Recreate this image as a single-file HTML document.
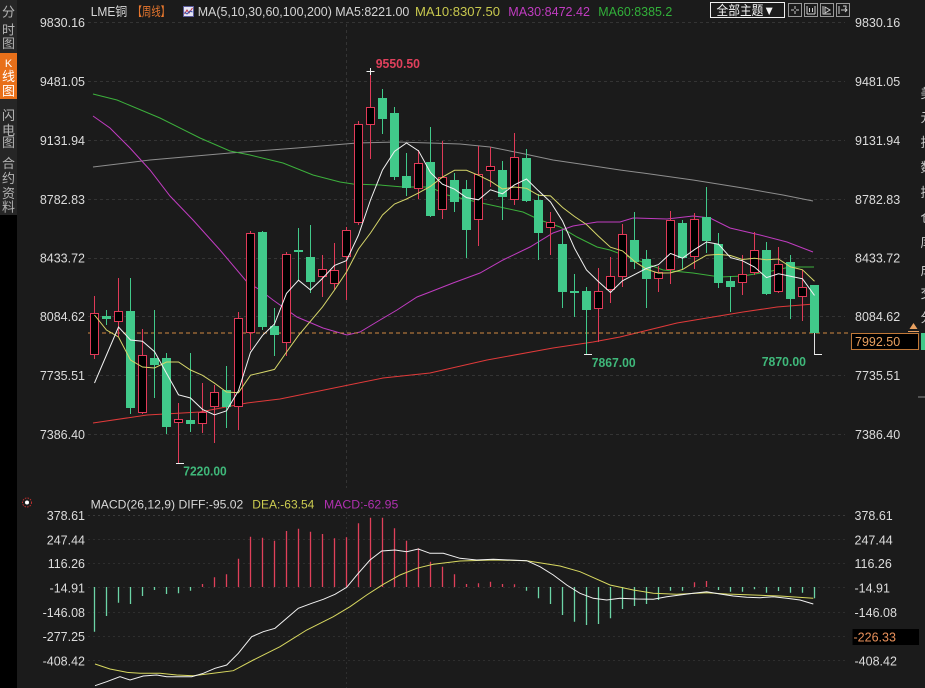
<!DOCTYPE html>
<html><head><meta charset="utf-8"><style>
html,body{margin:0;padding:0;background:#1b1b1b;}
svg{display:block;}
text{font-family:"Liberation Sans","Noto Sans CJK SC",sans-serif;}
</style></head><body>
<svg width="925" height="688" viewBox="0 0 925 688" xmlns="http://www.w3.org/2000/svg">
<rect x="0" y="0" width="925" height="688" fill="#1b1b1b"/>
<!-- sidebar -->
<rect x="0" y="0" width="17" height="215" fill="#262626"/>
<rect x="0" y="215" width="17" height="473" fill="#000"/>
<rect x="0" y="53" width="17" height="46" fill="#e8701a"/>
<g font-size="13" fill="#b4b4b4" text-anchor="middle" font-family="Noto Sans CJK SC, sans-serif">
<text x="8.5" y="16.5">分</text><text x="8.5" y="34.5">时</text><text x="8.5" y="48">图</text>
<text x="8.5" y="67" fill="#fff" font-size="11" font-family="Liberation Serif, serif">K</text><text x="8.5" y="81" fill="#fff">线</text><text x="8.5" y="95.5" fill="#fff">图</text>
<text x="8.5" y="120">闪</text><text x="8.5" y="135">电</text><text x="8.5" y="147">图</text>
<text x="8.5" y="168">合</text><text x="8.5" y="183">约</text><text x="8.5" y="198">资</text><text x="8.5" y="211.5">料</text>
</g>

<!-- grid main -->
<g stroke="#343434" stroke-width="1" stroke-dasharray="3,3">
<line x1="88" y1="22.5" x2="845" y2="22.5"/><line x1="88" y1="81.5" x2="845" y2="81.5"/>
<line x1="88" y1="140.5" x2="845" y2="140.5"/><line x1="88" y1="199.5" x2="845" y2="199.5"/>
<line x1="88" y1="258.5" x2="845" y2="258.5"/><line x1="88" y1="316.5" x2="845" y2="316.5"/>
<line x1="88" y1="375.5" x2="845" y2="375.5"/><line x1="88" y1="434.5" x2="845" y2="434.5"/>
<line x1="346.5" y1="24" x2="346.5" y2="488"/>
</g>
<g stroke="#2e2e2e" stroke-width="1" stroke-dasharray="2,3">
<line x1="88" y1="515.5" x2="845" y2="515.5" stroke="#3a3a3a"/><line x1="88" y1="539.5" x2="845" y2="539.5"/>
<line x1="88" y1="563.5" x2="845" y2="563.5"/><line x1="88" y1="587.5" x2="845" y2="587.5"/>
<line x1="88" y1="612.5" x2="845" y2="612.5"/><line x1="88" y1="636.5" x2="845" y2="636.5"/>
<line x1="88" y1="660.5" x2="845" y2="660.5"/>
<line x1="346.5" y1="512" x2="346.5" y2="688"/>
</g>

<!-- header -->
<text x="90.7" y="16" font-size="12.5" fill="#d8d8d8" textLength="36.6" lengthAdjust="spacingAndGlyphs">LME铜</text>
<text x="132.7" y="16" font-size="12.5" fill="#e8772e" textLength="37.3" lengthAdjust="spacingAndGlyphs">【周线】</text>
<rect x="183.5" y="6.5" width="10" height="10" fill="#e6e6f4" stroke="#5a5a9a"/>
<polyline points="184.5,14 187,10 189,13 192.5,8" fill="none" stroke="#c03040" stroke-width="1"/>
<polyline points="184.5,12 187,14 190,11 192.5,12" fill="none" stroke="#3050b0" stroke-width="1"/>
<text x="197.7" y="16" font-size="12.5" fill="#d4d4d4" textLength="211.6" lengthAdjust="spacingAndGlyphs">MA(5,10,30,60,100,200) MA5:8221.00</text>
<text x="415" y="16" font-size="12.5" fill="#c8c84e" textLength="85" lengthAdjust="spacingAndGlyphs">MA10:8307.50</text>
<text x="508.3" y="16" font-size="12.5" fill="#c03cc0" textLength="81.7" lengthAdjust="spacingAndGlyphs">MA30:8472.42</text>
<text x="598.3" y="16" font-size="12.5" fill="#32b03a" textLength="74" lengthAdjust="spacingAndGlyphs">MA60:8385.2</text>
<rect x="710.5" y="2.5" width="74" height="15" fill="#1b1b1b" stroke="#f0f0f0"/>
<text x="716.5" y="15" font-size="13" fill="#f4f4f4" font-family="Noto Sans CJK SC, sans-serif" textLength="58.5" lengthAdjust="spacingAndGlyphs">全部主题▼</text>
<g stroke="#9a9a9a" fill="none">
<rect x="788.5" y="3.5" width="13" height="13"/><rect x="804.5" y="3.5" width="13" height="13"/>
<rect x="820.5" y="3.5" width="13" height="13"/><rect x="836.5" y="3.5" width="13" height="13"/>
<path d="M795 6V9M795 11V14M791 10H794M796 10H799" stroke="#ccc"/>
<path d="M807 6V14M815 6V14M807 14H815M809.5 8V12M812.5 8V12" stroke="#ccc"/>
<path d="M823 6V14H831M825 7L830 10L825 13Z" stroke="#ccc"/>
<path d="M839 6V14M841 10H847M845 8L847 10L845 12M843 6H846V8" stroke="#ccc"/>
</g>

<!-- axis labels main -->
<g font-size="12.5" fill="#dcdcdc">
<g text-anchor="end">
<text x="85" y="27">9830.16</text><text x="85" y="86">9481.05</text><text x="85" y="145">9131.94</text>
<text x="85" y="204">8782.83</text><text x="85" y="262.5">8433.72</text><text x="85" y="321">8084.62</text>
<text x="85" y="380">7735.51</text><text x="85" y="439">7386.40</text>
</g>
<text x="855" y="27">9830.16</text><text x="855" y="86">9481.05</text><text x="855" y="145">9131.94</text>
<text x="855" y="204">8782.83</text><text x="855" y="262.5">8433.72</text><text x="855" y="321">8084.62</text>
<text x="855" y="380">7735.51</text><text x="855" y="439">7386.40</text>
</g>

<!-- right partial column chars -->
<g font-size="13" fill="#c8c8c8" font-family="Noto Sans CJK SC, sans-serif">
<text x="920.5" y="98">美</text><text x="920.5" y="122">元</text><text x="920.5" y="147">指</text>
<text x="920.5" y="172">数</text><text x="920.5" y="197">持</text><text x="920.5" y="222">仓</text>
<text x="920.5" y="247">库</text><text x="920.5" y="275">成</text><text x="920.5" y="298">交</text>
<text x="920.5" y="322">分</text>
</g>
<rect x="921" y="333" width="4" height="17" fill="#41c98a"/>
<line x1="918" y1="397" x2="925" y2="397" stroke="#888"/>

<!-- MA lines behind candles -->
<g fill="none" stroke-width="1">
<polyline stroke="#8e8e8e" points="93,167 150,160 230,153 297,148 357,143 397,142 430,143 460,144 490,147 520,153 553,160 587,165 620,170 643,173 693,180 743,188 783,195 813,201"/>
<polyline stroke="#3cb03c" points="93,94 117,100 160,118 200,138 230,151 250,155 283,163 313,175 340,182 353,184 380,185 403,187 430,187 447,195 477,202 500,207 523,212 540,220 560,227 577,237 597,247 610,250 637,260 663,270 693,273 720,277 743,276 767,272 790,267 814,267"/>
<polyline stroke="#c03cc0" points="93,116 110,128 130,148 150,170 170,196 193,220 220,250 247,282 260,290 273,300 297,317 323,328 347,335 360,332 380,320 397,310 417,297 430,292 453,283 480,273 503,260 530,247 553,233 573,226 597,222 620,222 633,218 667,219 693,216 710,218 730,228 760,235 787,242 813,252"/>
<polyline stroke="#e03a3a" points="93,423 147,415 200,412 247,403 280,399 383,378 430,373 487,360 553,348 593,342 620,337 677,323 743,312 777,307 814,304"/>
</g>

<!-- last price dashed line -->
<line x1="88" y1="333" x2="851" y2="333" stroke="#d08840" stroke-dasharray="4,3" stroke-width="1"/>

<!-- candle wicks -->
<path fill="none" stroke="#e03a58" stroke-width="1" d="M94.5 296V359M118.5 278V337M142.5 329V414M178.5 403V463M202.5 383V433M214.5 385V443M238.5 312V430M250.5 231V350M286.5 252V356M322.5 255V297M334.5 243V290M346.5 227V300M358.5 121V225M370.5 71V159M418.5 150V199M442.5 141V219M478.5 146V246M490.5 147V187M514.5 133V205M550.5 212V255M598.5 268V342M610.5 257V303M622.5 224V287M658.5 266V292M670.5 211V284M694.5 213V269M742.5 255V295M754.5 232V275M778.5 247V293M802.5 270V321"/>
<path fill="none" stroke="#41c98a" stroke-width="1" d="M106.5 310V325M130.5 278V414M154.5 310V398M166.5 353V434M190.5 353V432M226.5 366V428M262.5 231V330M274.5 308V356M298.5 228V280M310.5 225V293M382.5 89V134M394.5 107V180M406.5 153V196M430.5 127V217M454.5 173V212M466.5 180V258M502.5 161V220M526.5 149V202M538.5 194V260M562.5 230V308M574.5 274V317M586.5 287V354M634.5 212V269M646.5 250V308M682.5 220V269M706.5 187V253M718.5 233V288M730.5 276V312M766.5 242V295M790.5 255V319M814.5 285V333"/>
<line x1="814.5" y1="333" x2="814.5" y2="354" stroke="#e0e0e0"/>

<!-- up (hollow) bodies -->
<g fill="#000" stroke="#e03a58" stroke-width="1">
<rect x="90.5" y="313.5" width="8" height="41"/>
<rect x="114.5" y="311.5" width="8" height="10"/>
<rect x="138.5" y="355.5" width="8" height="57"/>
<rect x="174.5" y="419.5" width="8" height="3"/>
<rect x="198.5" y="412.5" width="8" height="11"/>
<rect x="210.5" y="392.5" width="8" height="14"/>
<rect x="234.5" y="318.5" width="8" height="88"/>
<rect x="246.5" y="233.5" width="8" height="99"/>
<rect x="282.5" y="254.5" width="8" height="88"/>
<rect x="318.5" y="269.5" width="8" height="7"/>
<rect x="330.5" y="270.5" width="8" height="13"/>
<rect x="342.5" y="230.5" width="8" height="26"/>
<rect x="354.5" y="124.5" width="8" height="98"/>
<rect x="366.5" y="107.5" width="8" height="17"/>
<rect x="414.5" y="163.5" width="8" height="25"/>
<rect x="438.5" y="177.5" width="8" height="32"/>
<rect x="474.5" y="174.5" width="8" height="45"/>
<rect x="486.5" y="166.5" width="8" height="4"/>
<rect x="510.5" y="157.5" width="8" height="42"/>
<rect x="546.5" y="222.5" width="8" height="5"/>
<rect x="594.5" y="291.5" width="8" height="17"/>
<rect x="606.5" y="276.5" width="8" height="13"/>
<rect x="618.5" y="234.5" width="8" height="42"/>
<rect x="654.5" y="272.5" width="8" height="6"/>
<rect x="666.5" y="220.5" width="8" height="49"/>
<rect x="690.5" y="219.5" width="8" height="37"/>
<rect x="738.5" y="274.5" width="8" height="8"/>
<rect x="750.5" y="250.5" width="8" height="22"/>
<rect x="774.5" y="264.5" width="8" height="27"/>
<rect x="798.5" y="287.5" width="8" height="9"/>
</g>
<!-- down (filled green) bodies -->
<g fill="#41c98a">
<rect x="102" y="316" width="9" height="3"/>
<rect x="126" y="311" width="9" height="97"/>
<rect x="150" y="358" width="9" height="7"/>
<rect x="162" y="358" width="9" height="69"/>
<rect x="186" y="420" width="9" height="4"/>
<rect x="222" y="390" width="9" height="17"/>
<rect x="258" y="232" width="9" height="95"/>
<rect x="270" y="326" width="9" height="9"/>
<rect x="294" y="250" width="9" height="2"/>
<rect x="306" y="257" width="9" height="25"/>
<rect x="378" y="98" width="9" height="21"/>
<rect x="390" y="113" width="9" height="64"/>
<rect x="402" y="176" width="9" height="12"/>
<rect x="426" y="162" width="9" height="54"/>
<rect x="450" y="180" width="9" height="22"/>
<rect x="462" y="189" width="9" height="41"/>
<rect x="498" y="170" width="9" height="27"/>
<rect x="522" y="158" width="9" height="43"/>
<rect x="534" y="200" width="9" height="33"/>
<rect x="558" y="244" width="9" height="48"/>
<rect x="570" y="291" width="9" height="2"/>
<rect x="582" y="291" width="9" height="19"/>
<rect x="630" y="240" width="9" height="22"/>
<rect x="642" y="259" width="9" height="20"/>
<rect x="678" y="223" width="9" height="35"/>
<rect x="702" y="217" width="9" height="24"/>
<rect x="714" y="244" width="9" height="39"/>
<rect x="726" y="281" width="9" height="6"/>
<rect x="762" y="250" width="9" height="44"/>
<rect x="786" y="262" width="9" height="37"/>
<rect x="810" y="285" width="9" height="48"/>
</g>

<!-- MA5 / MA10 on top -->
<g fill="none" stroke-width="1">
<polyline stroke="#d6d66a" points="94.5,315 106.5,330 118.5,337 130.5,360 142.5,367 154.5,368 166.5,362 178.5,362 190.5,370 202.5,375.3 214.5,383.2 226.5,392 238.5,392.7 250.5,375.2 262.5,372.4 274.5,369.4 286.5,352.1 298.5,335.4 310.5,321.2 322.5,306.9 334.5,290 346.5,272 358.5,249 370.5,233 382.5,215 394.5,204 406.5,199 418.5,192.9 430.5,186.3 442.5,177.1 454.5,170.3 466.5,170.3 478.5,175.3 490.5,181.2 502.5,189 514.5,187 526.5,188.3 538.5,195.3 550.5,195.9 562.5,207.4 574.5,216.5 586.5,224.5 598.5,236.2 610.5,247.2 622.5,250.9 634.5,261.4 646.5,269.2 658.5,273.1 670.5,272.9 682.5,269.5 694.5,262.1 706.5,255.2 718.5,254.4 730.5,255.5 742.5,259.5 754.5,258.3 766.5,259.8 778.5,259 790.5,266.9 802.5,269.8 814.5,281.2"/>
<polyline stroke="#f2f2f2" points="94.5,383 106.5,355 118.5,327 130.5,340 142.5,341.2 154.5,351.6 166.5,373.2 178.5,394.8 190.5,398 202.5,409.4 214.5,414.8 226.5,410.8 238.5,390.6 250.5,352.4 262.5,335.4 274.5,324 286.5,293.4 298.5,280.2 310.5,290 322.5,278.4 334.5,265.4 346.5,260.6 358.5,235 370.5,200 382.5,170 394.5,151.4 406.5,143 418.5,150.8 430.5,172.6 442.5,184.2 454.5,189.2 466.5,197.6 478.5,199.8 490.5,189.8 502.5,193.8 514.5,184.8 526.5,179 538.5,190.8 550.5,202 562.5,221 574.5,248.2 586.5,270 598.5,281.6 610.5,292.4 622.5,280.8 634.5,274.6 646.5,268.4 658.5,264.6 670.5,253.4 682.5,258.2 694.5,249.6 706.5,242 718.5,244.2 730.5,257.6 742.5,260.8 754.5,267 766.5,277.6 778.5,273.8 790.5,276.2 802.5,278.8 814.5,295.4"/>
</g>

<!-- high/low markers -->
<g stroke="#f0f0f0" stroke-width="1">
<path d="M366.5 71.5H374.5M370.5 68V75"/>
<path d="M176 463.5H184"/>
<path d="M584 354.5H592"/>
<path d="M814 354.5H822"/>
</g>
<g font-size="12.5" font-weight="bold">
<text x="375.7" y="68" fill="#e0405c" textLength="44.3" lengthAdjust="spacingAndGlyphs">9550.50</text>
<text x="183.3" y="475.5" fill="#3fb87a" textLength="43.4" lengthAdjust="spacingAndGlyphs">7220.00</text>
<text x="591.7" y="367" fill="#3fb87a" textLength="44" lengthAdjust="spacingAndGlyphs">7867.00</text>
<text x="761.7" y="366" fill="#3fb87a" textLength="44.3" lengthAdjust="spacingAndGlyphs">7870.00</text>
</g>

<!-- last price box -->
<rect x="851.5" y="333.5" width="67" height="16" fill="#000" stroke="#c07838"/>
<text x="855" y="346" font-size="12.5" fill="#e8a060">7992.50</text>
<path d="M909.5 329L913.5 323L917.5 329Z" fill="#e8a060"/>
<line x1="908" y1="331.5" x2="919" y2="331.5" stroke="#e8a060"/>

<!-- MACD panel -->
<circle cx="27" cy="502.5" r="4.5" fill="none" stroke="#c03030" stroke-dasharray="1.5,1.2"/>
<circle cx="27" cy="502.5" r="2" fill="#fff"/>
<text x="90.7" y="508.5" font-size="12" fill="#d8d8d8" textLength="152.6" lengthAdjust="spacingAndGlyphs">MACD(26,12,9) DIFF:-95.02</text>
<text x="252.3" y="508.5" font-size="12" fill="#cccc50" textLength="62" lengthAdjust="spacingAndGlyphs">DEA:-63.54</text>
<text x="324" y="508.5" font-size="12" fill="#b030b0" textLength="74.3" lengthAdjust="spacingAndGlyphs">MACD:-62.95</text>

<g font-size="12.5" fill="#dcdcdc">
<g text-anchor="end">
<text x="85" y="520">378.61</text><text x="85" y="544.5">247.44</text><text x="85" y="568">116.26</text>
<text x="85" y="592.5">-14.91</text><text x="85" y="617">-146.08</text><text x="85" y="641">-277.25</text>
<text x="85" y="665.5">-408.42</text>
</g>
<text x="854.5" y="520">378.61</text><text x="854.5" y="544.5">247.44</text><text x="854.5" y="568">116.26</text>
<text x="854.5" y="592.5">-14.91</text><text x="854.5" y="617">-146.08</text>
<text x="854.5" y="665.5">-408.42</text>
</g>
<rect x="852.5" y="629" width="66.5" height="16" fill="#000"/>
<text x="853.5" y="641.5" font-size="12.5" fill="#e8905a">-226.33</text>

<!-- histogram -->
<path fill="none" stroke="#6cd4a6" stroke-width="1.3" d="M94.5 587V631.7M106.5 587V616M118.5 587V602.7M130.5 587V604M142.5 587V596M154.5 587V590M166.5 587V594M178.5 587V593.3M190.5 587V590.7M526.5 587V590.7M538.5 587V598.3M550.5 587V604M562.5 587V615M574.5 587V621.7M586.5 587V625M598.5 587V624M610.5 587V618.3M622.5 587V609M634.5 587V606M646.5 587V604M658.5 587V600M670.5 587V590.7M682.5 587V590.7M718.5 587V590M730.5 587V591.7M742.5 587V591.7M754.5 587V589.3M766.5 587V592.7M778.5 587V591M790.5 587V592.7M802.5 587V592.7M814.5 587V598.3"/>
<path fill="none" stroke="#e0405a" stroke-width="1.3" d="M202.5 587V584M214.5 587V577.3M226.5 587V574.3M238.5 587V558.7M250.5 587V536.7M262.5 587V537.7M274.5 587V540.7M286.5 587V531M298.5 587V528.7M310.5 587V531.7M322.5 587V534M334.5 587V538.3M346.5 587V537.3M358.5 587V523.3M370.5 587V517.7M382.5 587V517.7M394.5 587V528.3M406.5 587V540.7M418.5 587V548.3M430.5 587V561.7M442.5 587V566.7M454.5 587V574.3M466.5 587V584M478.5 587V583.3M490.5 587V581.7M502.5 587V584M514.5 587V584.3M694.5 587V582.3M706.5 587V581"/>

<!-- DIFF / DEA -->
<g fill="none" stroke-width="1">
<polyline stroke="#d8d860" points="95,664 110,669 126.7,672.3 140,673.3 160,673.3 176.7,675 193.3,675.7 213.3,673.3 233.3,670.7 253.3,660 280,646.7 306.7,630 333.3,616.7 350,606.7 366.7,595 383.3,584.3 400,575 416.7,568.3 433.3,564.3 450,562.3 460,561 493.3,560 526.7,560.7 560,566 580,571.7 610,585 633.3,590 653.3,593.3 676.7,594.3 706.7,592.7 726.7,594 753.3,595 780,596 813.3,598.3"/>
<polyline stroke="#f2f2f2" points="95,685.7 106.7,681.7 120,676.7 130,680 143.3,676 156.7,675 166.7,676.7 180,676.7 191.7,676.7 203.3,673.3 215,668.3 226.7,665 238.3,653.3 251.7,636.7 263.3,631.7 275,628.3 286.7,618.3 298.3,608.3 311.7,603.3 323.3,599.3 335,594.3 346.7,587.3 358.3,573.3 370,560 381.7,551 395,550 406.7,551.7 418.3,549 430,553.3 443.3,553.3 460,558.3 476.7,560 493.3,559.3 510,560 526.7,560.7 540,566.7 553.3,575 566.7,585 580,593.3 593.3,598.3 606.7,600 620,598.3 636.7,599 653.3,599.3 666.7,596.7 680,595 693.3,593.3 706.7,591.7 720,594 733.3,596 746.7,597.3 760,597.7 773.3,596.7 786.7,598.3 800,600 813.3,604"/>
</g>
</svg>
</body></html>
